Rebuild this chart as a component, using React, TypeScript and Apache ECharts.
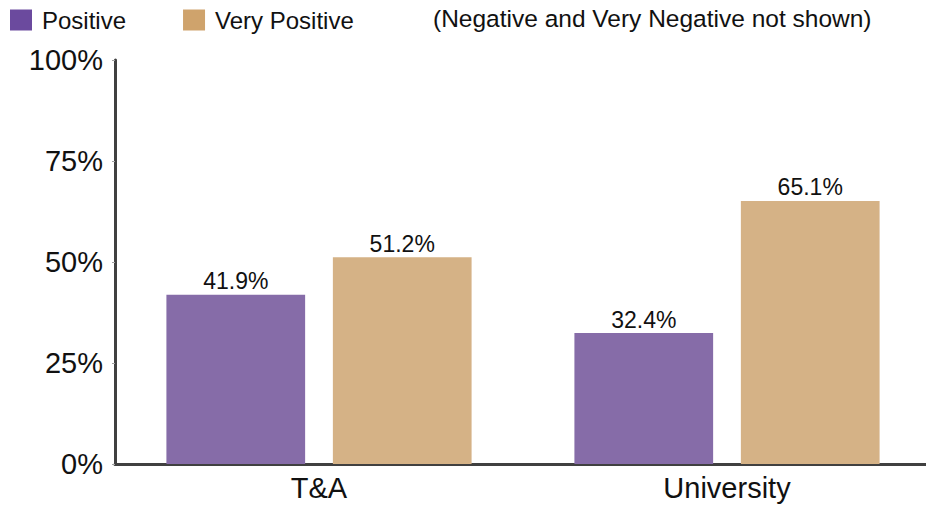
import React, { useEffect, useRef } from "react";
import * as echarts from "echarts";

const categories = ["T&A", "University"];
const positive = [41.9, 32.4];
const veryPositive = [51.2, 65.1];
const seriesNames = ["Positive", "Very Positive"];
const yTicks = { min: 0, max: 100, interval: 25 };
const note = "(Negative and Very Negative not shown)";

const FONT = "Liberation Sans, Arial, sans-serif";

export default function App() {
  const ref = useRef<HTMLDivElement>(null);
  useEffect(() => {
    if (!ref.current) return;
    const chart = echarts.init(ref.current, undefined, { renderer: "svg" });
    const label = {
      show: true,
      position: "top",
      distance: 2,
      fontFamily: FONT,
      fontSize: 23,
      color: "#111",
      formatter: (p: any) => `${Number(p.value).toFixed(1)}%`,
    };
    chart.setOption({
      animation: false,
      textStyle: { fontFamily: FONT },
      legend: {
        left: 10,
        top: 8,
        padding: 0,
        itemWidth: 22,
        itemHeight: 21,
        itemGap: 57,
        icon: "rect",
        textStyle: { fontFamily: FONT, fontSize: 24, color: "#111", padding: [0, 0, 0, 5] },
        data: [
          { name: seriesNames[0], itemStyle: { color: "#6B4A9E" } },
          { name: seriesNames[1], itemStyle: { color: "#CFA36C" } },
        ],
      },
      graphic: [
        {
          type: "text",
          left: 433,
          top: 6,
          style: { text: note, font: `24.5px ${FONT}`, fill: "#111" },
        },
      ],
      grid: { left: 115, top: 60, width: 816, height: 404 },
      xAxis: {
        type: "category",
        data: categories,
        axisLine: { lineStyle: { color: "#404040", width: 3 } },
        axisTick: { alignWithLabel: true, length: 4, lineStyle: { color: "#a0a0a0", width: 1 } },
        axisLabel: { fontFamily: FONT, fontSize: 29, color: "#111", margin: 9 },
      },
      yAxis: {
        type: "value",
        min: yTicks.min,
        max: yTicks.max,
        interval: yTicks.interval,
        axisLine: { show: true, lineStyle: { color: "#404040", width: 3 } },
        axisTick: { show: true, length: 3, lineStyle: { color: "#a0a0a0", width: 1 } },
        splitLine: { show: false },
        axisLabel: { fontFamily: FONT, fontSize: 29, color: "#111", margin: 12, formatter: "{value}%" },
      },
      series: [
        {
          name: seriesNames[0],
          type: "bar",
          data: positive,
          barWidth: "34%",
          barGap: "20%",
          barCategoryGap: "25%",
          itemStyle: { color: "#866CA8" },
          label,
        },
        {
          name: seriesNames[1],
          type: "bar",
          data: veryPositive,
          barWidth: "34%",
          barGap: "20%",
          itemStyle: { color: "#D5B286" },
          label,
        },
      ],
    });
    return () => chart.dispose();
  }, []);
  return (
    <div style={{ position: "fixed", left: 0, top: 0, width: 926, height: 506, overflow: "hidden", background: "#fff" }}>
      <div ref={ref} style={{ width: 932, height: 506 }} />
    </div>
  );
}
